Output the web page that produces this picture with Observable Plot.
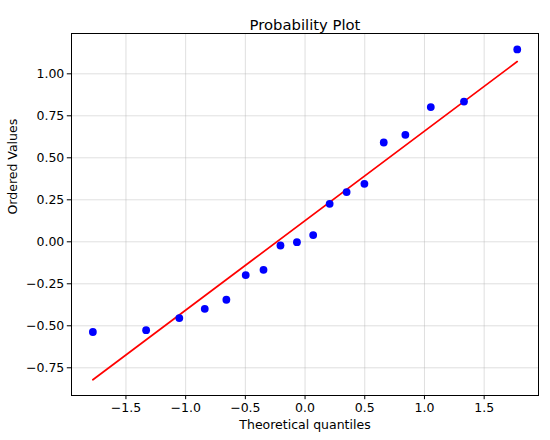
<!DOCTYPE html>
<html>
<head>
<meta charset="utf-8">
<script src="https://cdn.jsdelivr.net/npm/d3@7"></script>
<script src="https://cdn.jsdelivr.net/npm/@observablehq/plot@0.6"></script>
<style>
  html, body { margin: 0; padding: 0; background: #fff; }
  #chart svg { display: block; }
</style>
</head>
<body>
<div id="chart"></div>
<script>
// Theoretical quantiles (x) and ordered sample values (y)
const theoretical = [-1.777, -1.331, -1.053, -0.840, -0.659, -0.497, -0.348, -0.206, -0.068,
                      0.068, 0.206, 0.348, 0.497, 0.659, 0.840, 1.053, 1.331, 1.777];
const ordered = [-0.537, -0.526, -0.454, -0.399, -0.345, -0.198, -0.167, -0.022, -0.002,
                  0.040, 0.226, 0.296, 0.345, 0.591, 0.637, 0.802, 0.835, 1.145];
// Least-squares fit line
const fitSlope = 0.533;
const fitIntercept = 0.126;
const xTicks = [-1.5, -1.0, -0.5, 0.0, 0.5, 1.0, 1.5];
const yTicks = [-0.75, -0.50, -0.25, 0.00, 0.25, 0.50, 0.75, 1.00];

const points = theoretical.map((x, i) => ({x, y: ordered[i]}));
const fitLine = [theoretical[0], theoretical[theoretical.length - 1]]
  .map(x => ({x, y: fitIntercept + fitSlope * x}));

const font = "DejaVu Sans, sans-serif";
const fx = d3.format(".1f");
const fy = d3.format(".2f");

const chart = Plot.plot({
  width: 550,
  height: 440,
  marginTop: 33,
  marginBottom: 45,
  marginLeft: 71,
  marginRight: 12,
  style: {fontFamily: font, fontSize: "12.5px", color: "#000", background: "#fff"},
  x: {domain: [-1.956, 1.955], label: null},
  y: {domain: [-0.915, 1.240], label: null},
  marks: [
    Plot.gridX(xTicks, {stroke: "#b0b0b0", strokeOpacity: 0.4, strokeWidth: 1}),
    Plot.gridY(yTicks, {stroke: "#b0b0b0", strokeOpacity: 0.4, strokeWidth: 1}),
    Plot.line(fitLine, {x: "x", y: "y", stroke: "red", strokeWidth: 1.7}),
    Plot.dot(points, {x: "x", y: "y", r: 3.9, fill: "blue", stroke: "none"}),
    Plot.frame({stroke: "#000", strokeWidth: 1}),
    Plot.axisX(xTicks, {tickSize: 4.2, tickPadding: 3, tickFormat: fx, fontSize: 12.5, stroke: "#000", fill: "#000", label: null}),
    Plot.axisY(yTicks, {tickSize: 4.2, tickPadding: 3, tickFormat: fy, fontSize: 12.5, stroke: "#000", fill: "#000", label: null}),
    Plot.text(["Probability Plot"], {frameAnchor: "top", dy: -14, fontSize: 14.8, fill: "#000", textAnchor: "middle"}),
    Plot.text(["Theoretical quantiles"], {frameAnchor: "bottom", dy: 33, fontSize: 12.5, fill: "#000"}),
    Plot.text(["Ordered Values"], {frameAnchor: "left", dx: -59, rotate: -90, fontSize: 12.5, fill: "#000"})
  ]
});

document.getElementById("chart").appendChild(chart);
</script>
</body>
</html>
